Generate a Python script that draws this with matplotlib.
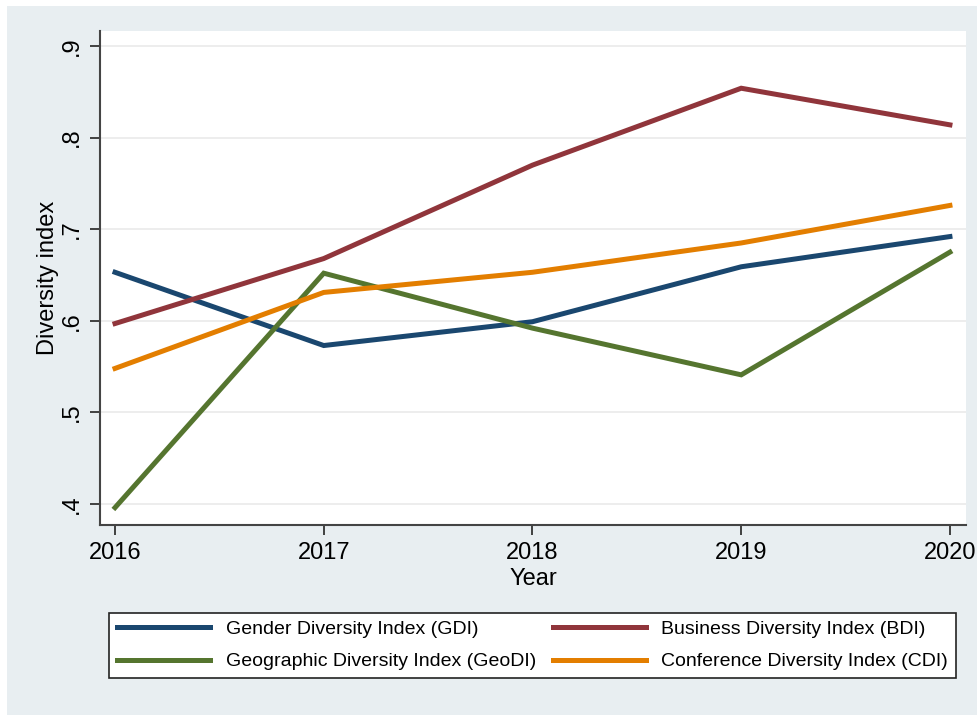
import matplotlib as mpl
mpl.use('Agg')
import matplotlib.pyplot as plt
from matplotlib.patches import Rectangle

plt.rcParams['font.family'] = ['Liberation Sans', 'DejaVu Sans']

years = [2016, 2017, 2018, 2019, 2020]
gdi = [0.653, 0.573, 0.599, 0.659, 0.692]
bdi = [0.597, 0.668, 0.770, 0.854, 0.814]
geodi = [0.396, 0.652, 0.592, 0.541, 0.675]
cdi = [0.548, 0.631, 0.653, 0.685, 0.726]

series_names = ['Gender Diversity Index (GDI)', 'Business Diversity Index (BDI)',
                'Geographic Diversity Index (GeoDI)', 'Conference Diversity Index (CDI)']
y_ticks = [0.4, 0.5, 0.6, 0.7, 0.8, 0.9]
y_tick_labels = ['.4', '.5', '.6', '.7', '.8', '.9']

# stata s2color palette
navy = '#1a476f'
maroon = '#90353b'
green = '#55752f'
orange = '#e37e00'
bg = '#e8eef1'

W, H = 978, 715
fig = plt.figure(figsize=(W / 100, H / 100), dpi=100)
fig.patch.set_facecolor('white')
fig.patches.append(Rectangle((7 / W, 0), 1, 1 - 6 / H, transform=fig.transFigure,
                             facecolor=bg, edgecolor='none', zorder=-10))

ax = fig.add_axes([100 / W, 1 - 525 / H, 866 / W, 494 / H])
ax.set_facecolor('white')

l1, = ax.plot(years, gdi, color=navy, lw=3.6, solid_joinstyle='miter')
l2, = ax.plot(years, bdi, color=maroon, lw=3.6, solid_joinstyle='miter')
l3, = ax.plot(years, geodi, color=green, lw=3.6, solid_joinstyle='miter')
l4, = ax.plot(years, cdi, color=orange, lw=3.6, solid_joinstyle='miter')

ax.set_xlim(2016 - 0.072, 2020 + 0.077)
ax.set_ylim(0.377, 0.9165)
ax.set_xticks(years)
ax.set_yticks(y_ticks)
ax.set_yticklabels(y_tick_labels, rotation=90, va='center')
ax.tick_params(axis='both', labelsize=17, length=7, width=1.3, color='#333333',
               direction='out', pad=5)
ax.grid(axis='y', color='#eaeaea', lw=1.2)
ax.set_axisbelow(True)

for side in ['top', 'right']:
    ax.spines[side].set_visible(False)
for side in ['left', 'bottom']:
    ax.spines[side].set_color('#444444')
    ax.spines[side].set_linewidth(1.5)

ax.set_xlabel('Year', fontsize=17, labelpad=3)
ax.set_ylabel('Diversity index', fontsize=17, labelpad=2)

# legend fills column-wise, so order the handles to read row by row
handles = [l1, l3, l2, l4]
labels = [series_names[0], series_names[2], series_names[1], series_names[3]]
leg = fig.legend(handles, labels, loc='center',
                 bbox_to_anchor=(109 / W, 1 - 686 / H, 847 / W, 81 / H),
                 ncol=2, fontsize=14, frameon=True, fancybox=False,
                 handlelength=4.8, handletextpad=0.8, columnspacing=3.0,
                 borderaxespad=0, mode='expand', labelspacing=0.75)
frame = leg.get_frame()
frame.set_edgecolor('#222222')
frame.set_linewidth(1.2)
frame.set_facecolor('white')
frame.set_alpha(1)

fig.savefig('out.png', dpi=100, facecolor=fig.get_facecolor())
